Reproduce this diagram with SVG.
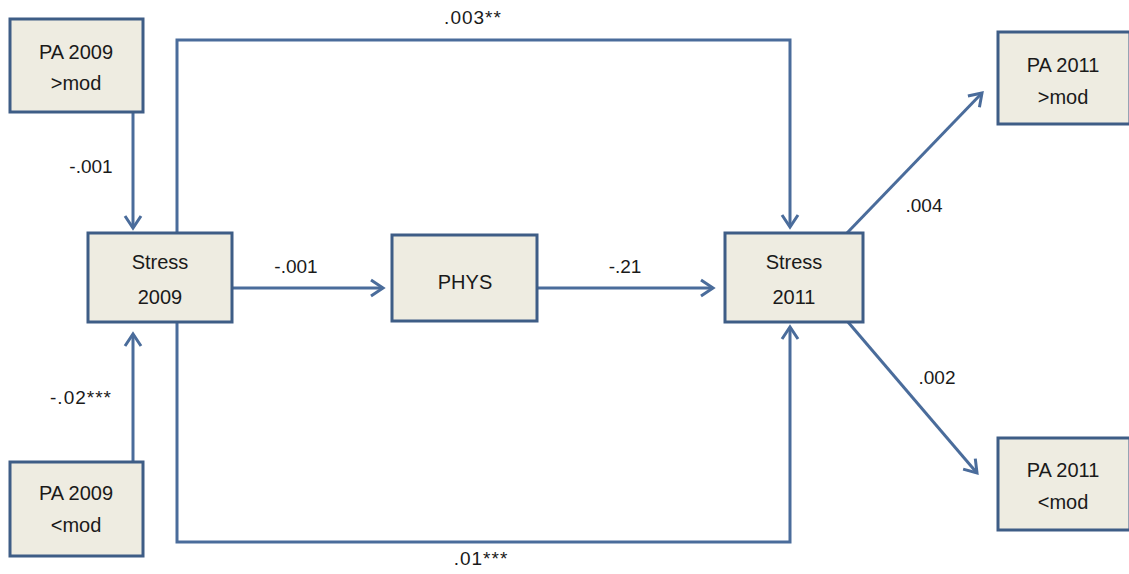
<svg xmlns="http://www.w3.org/2000/svg" width="1129" height="574" viewBox="0 0 1129 574">
<defs>
<marker id="arr" markerUnits="userSpaceOnUse" markerWidth="20" markerHeight="20" viewBox="-14 -10 16 20" refX="0" refY="0" orient="auto">
<path d="M-12,-8 L0,0 L-12,8" fill="none" stroke="#4A6C9B" stroke-width="3" stroke-linejoin="miter"/>
</marker>
<style>
.box{fill:#EEECE1;stroke:#3E5D86;stroke-width:3}
.nt{font-family:"Liberation Sans",Arial,sans-serif;font-size:20px;fill:#1a1a1a;text-anchor:middle;dominant-baseline:central}
.lb{font-family:"Liberation Sans",Arial,sans-serif;font-size:19px;fill:#1a1a1a;text-anchor:middle;dominant-baseline:central}
.c{fill:none;stroke:#4A6C9B;stroke-width:3}
</style>
</defs>
<rect width="1129" height="574" fill="#ffffff"/>
<g id="connectors">
<line class="c" x1="133" y1="112" x2="133" y2="228" marker-end="url(#arr)"/>
<line class="c" x1="133" y1="462" x2="133" y2="334" marker-end="url(#arr)"/>
<polyline class="c" points="177,233 177,40 790,40 790,227" marker-end="url(#arr)"/>
<polyline class="c" points="177,322 177,542 790,542 790,327" marker-end="url(#arr)"/>
<line class="c" x1="232" y1="288" x2="383" y2="288" marker-end="url(#arr)"/>
<line class="c" x1="537" y1="288" x2="713" y2="288" marker-end="url(#arr)"/>
<line class="c" x1="847" y1="233" x2="982" y2="93" marker-end="url(#arr)"/>
<line class="c" x1="848" y1="322" x2="977" y2="473" marker-end="url(#arr)"/>
<text class="lb" x="91" y="166">-.001</text>
<text class="lb" x="81" y="397" letter-spacing="1">-.02***</text>
<text class="lb" x="473" y="17" letter-spacing="1">.003**</text>
<text class="lb" x="481" y="558" letter-spacing="1">.01***</text>
<text class="lb" x="296" y="266">-.001</text>
<text class="lb" x="625" y="266">-.21</text>
<text class="lb" x="924" y="205">.004</text>
<text class="lb" x="937" y="377">.002</text>
</g>
<g id="pa2009_gt">
<rect class="box" x="10" y="19" width="133" height="93"/>
<text class="nt" x="76" y="52">PA 2009</text>
<text class="nt" x="76" y="83">&gt;mod</text>
</g>
<g id="pa2009_lt">
<rect class="box" x="10" y="462" width="133" height="94"/>
<text class="nt" x="76" y="493">PA 2009</text>
<text class="nt" x="76" y="525">&lt;mod</text>
</g>
<g id="stress2009">
<rect class="box" x="88" y="233" width="144" height="89"/>
<text class="nt" x="160" y="262">Stress</text>
<text class="nt" x="160" y="297">2009</text>
</g>
<g id="phys">
<rect class="box" x="392" y="235" width="145" height="86"/>
<text class="nt" x="465" y="282">PHYS</text>
</g>
<g id="stress2011">
<rect class="box" x="725" y="233" width="138" height="89"/>
<text class="nt" x="794" y="262">Stress</text>
<text class="nt" x="794" y="297">2011</text>
</g>
<g id="pa2011_gt">
<rect class="box" x="998" y="32" width="132" height="92"/>
<text class="nt" x="1063" y="65">PA 2011</text>
<text class="nt" x="1063" y="97">&gt;mod</text>
</g>
<g id="pa2011_lt">
<rect class="box" x="998" y="438" width="132" height="92"/>
<text class="nt" x="1063" y="470">PA 2011</text>
<text class="nt" x="1063" y="502">&lt;mod</text>
</g>
</svg>
